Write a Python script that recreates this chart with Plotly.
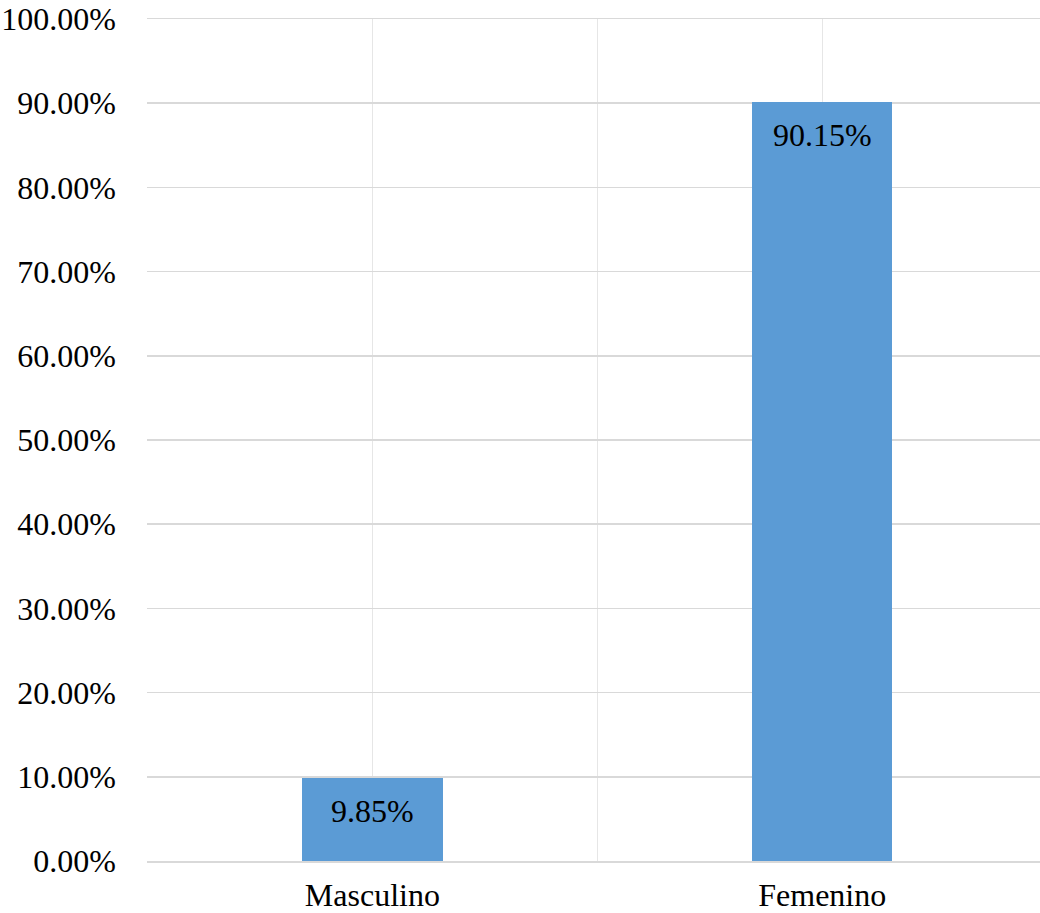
import plotly.graph_objects as go

categories = ["Masculino", "Femenino"]
values = [9.85, 90.15]
labels = ["9.85%", "90.15%"]
y_ticks = [0, 10, 20, 30, 40, 50, 60, 70, 80, 90, 100]
y_tick_text = ["0.00%", "10.00%", "20.00%", "30.00%", "40.00%", "50.00%",
               "60.00%", "70.00%", "80.00%", "90.00%", "100.00%"]

FONT = "Liberation Serif, Times New Roman, serif"
FS = 32
xpos = list(range(len(categories)))

fig = go.Figure()
fig.add_trace(go.Bar(
    x=xpos, y=values, width=0.312,
    marker=dict(color="#5b9bd5", line=dict(width=0)),
    hoverinfo="skip",
))
for xi, v, t in zip(xpos, values, labels):
    fig.add_annotation(x=xi, y=v, text=t, showarrow=False,
                       yanchor="middle", yshift=-33,
                       font=dict(family=FONT, size=FS, color="#000000"))

fig.update_layout(
    width=1040, height=913,
    margin=dict(l=147, r=0, t=19, b=52, pad=0),
    paper_bgcolor="white", plot_bgcolor="white",
    showlegend=False,
    font=dict(family=FONT, size=FS, color="#000000"),
    bargap=0,
)
fig.update_xaxes(
    automargin=False,
    range=[-0.501, 1.484],
    tickvals=xpos, ticktext=categories,
    showgrid=False, zeroline=False,
    showline=True, mirror=True, linecolor="#d9d9d9", linewidth=1.5,
    ticks="", ticklabelstandoff=5,
    minor=dict(showgrid=True, tick0=-0.5, dtick=0.5, gridcolor="#e6e6e6", gridwidth=1.5),
    tickfont=dict(family=FONT, size=FS, color="#000000"),
)
fig.update_yaxes(
    automargin=False,
    range=[0, 100],
    tickvals=y_ticks, ticktext=y_tick_text,
    showgrid=True, gridcolor="#d9d9d9", gridwidth=1.5,
    zeroline=False, ticks="", ticklabelstandoff=30,
    ticklabeloverflow="allow",
    tickfont=dict(family=FONT, size=FS, color="#000000"),
)
fig.write_html(
    "out.html",
    config={"displayModeBar": False, "staticPlot": True},
    post_script="document.body.style.margin='0';document.body.style.overflow='hidden';",
)
